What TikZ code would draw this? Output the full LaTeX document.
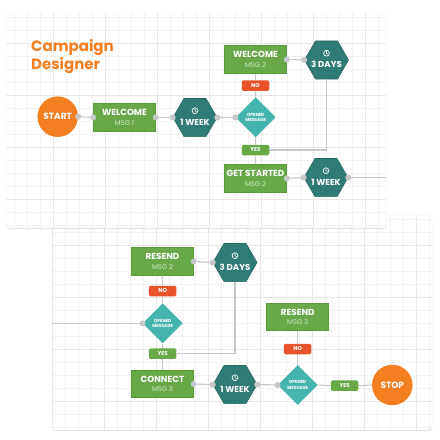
\documentclass[tikz,border=0pt]{standalone}
\usepackage{fontspec}
\setmainfont{Poppins}
\usetikzlibrary{positioning}
\usetikzlibrary{shapes.geometric}
\usetikzlibrary{arrows.meta}
\usetikzlibrary{shadows}

\definecolor{cdorange}{HTML}{F47F20}
\definecolor{cdgreen}{HTML}{68A847}
\definecolor{cdgreenD}{HTML}{5A9A3C}
\definecolor{cdteal}{HTML}{2F7B75}
\definecolor{cdtealD}{HTML}{27695F}
\definecolor{cdaqua}{HTML}{45B4AC}
\definecolor{cdred}{HTML}{E9532B}
\definecolor{cdline}{HTML}{C8C8CA}
\definecolor{cdmsg}{HTML}{D3EAC6}

\newcommand{\msgfont}{\mdseries\fontsize{6.8}{7.8}\selectfont\color{cdmsg}}

\tikzset{
  card/.style={fill=white, draw=black!7, rounded corners=3pt,
    drop shadow={shadow xshift=0pt, shadow yshift=-1pt, opacity=0.25}},
  gridminor/.style={draw=black!5, line width=0.4pt},
  gridmajor/.style={draw=black!9, line width=0.5pt},
  msgbox/.style={rectangle, fill=cdgreen, draw=cdgreenD, line width=0.6pt,
    minimum width=62pt, minimum height=27.5pt, inner sep=0pt, align=center,
    text=white, font=\bfseries\fontsize{8.8}{9.6}\selectfont},
  waithex/.style={regular polygon, regular polygon sides=6, fill=cdteal,
    draw=cdtealD, line width=0.6pt, minimum size=44pt, inner sep=0pt},
  hextext/.style={text=white, inner sep=0pt, font=\bfseries\fontsize{8.6}{10}\selectfont},
  check/.style={diamond, aspect=1, fill=cdaqua, minimum width=40pt,
    minimum height=40pt, inner sep=0pt, align=center, text=white,
    font=\bfseries\fontsize{4.4}{5.6}\selectfont},
  tagbox/.style={rectangle, rounded corners=1.5pt, minimum width=27.5pt,
    minimum height=10.5pt, inner sep=0pt, text=white,
    font=\bfseries\fontsize{5.6}{6.5}\selectfont},
  nolbl/.style={tagbox, fill=cdred},
  yeslbl/.style={tagbox, fill=cdgreen},
  startstop/.style={circle, fill=cdorange, minimum size=40.5pt, inner sep=0pt,
    text=white, font=\bfseries\fontsize{9}{10}\selectfont},
  link/.style={draw=cdline, line width=1.1pt},
  dots/.style={{Circle[length=6pt,color=cdline]}-{Circle[length=6pt,color=cdline]},
    shorten <=-3pt, shorten >=-3pt},
  startdot/.style={{Circle[length=6pt,color=cdline]}-, shorten <=-3pt},
  enddot/.style={-{Circle[length=6pt,color=cdline]}, shorten >=-3pt},
  clock/.pic={
    \draw[white, line width=0.7pt] (0,0) circle[radius=2.9];
    \draw[white, line width=0.6pt, line cap=round] (0,-1.8) -- (0,0) -- (1.3,0.9);
  }
}

\begin{document}
\begin{tikzpicture}[x=1pt, y=-1pt]
\useasboundingbox (0,0) rectangle (440,440);

% cards and their grids
\draw[card] (52,215) rectangle (432,430);
\begin{scope}
  \clip (52,215) rectangle (432,430);
  \foreach \gx in {0,13,...,442} \draw[gridminor] (\gx,215) -- (\gx,430);
  \foreach \gy in {219,232,...,430} \draw[gridminor] (52,\gy) -- (432,\gy);
  \foreach \gx in {52,104,...,432} \draw[gridmajor] (\gx,215) -- (\gx,430);
  \foreach \gy in {245,297,...,430} \draw[gridmajor] (52,\gy) -- (432,\gy);
\end{scope}
\draw[card] (6,13) rectangle (386,228);
\begin{scope}
  \clip[rounded corners=3pt] (6,13) rectangle (386,228);
  \foreach \gx in {1,14,...,390} \draw[gridminor] (\gx,13) -- (\gx,228);
  \foreach \gy in {17,30,...,228} \draw[gridminor] (6,\gy) -- (386,\gy);
  \foreach \gx in {53,105,...,386} \draw[gridmajor] (\gx,13) -- (\gx,228);
  \foreach \gy in {43,95,...,228} \draw[gridmajor] (6,\gy) -- (386,\gy);
\end{scope}

\node[anchor=north west, inner sep=0pt, align=left, text=cdorange,
  font=\bfseries\fontsize{15}{18}\selectfont] (title) at (31,39) {Campaign\\Designer};

% first card
\node[startstop] (start) at (57.7,116.7) {START};
\node[msgbox] (welcome1) at (124.5,117.5) {WELCOME\\{\msgfont MSG 1}};
\node[waithex] (week1) at (195,117.5) {};
\node[check] (opened1) at (255.7,117.3) {OPENED\\MESSAGE};
\node[nolbl] (no1) at (255.5,85.5) {NO};
\node[msgbox] (welcome2) at (255.5,59.5) {WELCOME\\{\msgfont MSG 2}};
\node[waithex] (days1) at (326.5,60) {};
\node[yeslbl] (yes1) at (255.5,150) {YES};
\node[msgbox] (started) at (255.5,178.5) {GET STARTED\\{\msgfont MSG 2}};
\node[waithex] (week2) at (326,177.5) {};
\coordinate (out1) at (386,177.5);

% second card
\node[msgbox] (resend2) at (162.5,261.5) {RESEND\\{\msgfont MSG 2}};
\node[waithex] (days2) at (235,262.5) {};
\node[nolbl] (no2) at (162.7,291) {NO};
\node[check] (opened2) at (162.7,323.3) {OPENED\\MESSAGE};
\coordinate (in2) at (52,323.3);
\node[yeslbl] (yes2) at (162.7,353.7) {YES};
\node[msgbox] (connect) at (162.5,384) {CONNECT\\{\msgfont MSG 3}};
\node[waithex] (week3) at (235,384.5) {};
\node[check] (opened3) at (297.7,385) {OPENED\\MESSAGE};
\node[nolbl] (no3) at (297.7,349) {NO};
\node[msgbox] (resend3) at (297.7,317) {RESEND\\{\msgfont MSG 3}};
\node[yeslbl] (yes3) at (344.7,385.7) {YES};
\node[startstop] (stop) at (392.3,385) {STOP};

% hexagon texts
\foreach \h/\t in {week1/1 WEEK, days1/3 DAYS, week2/1 WEEK, days2/3 DAYS, week3/1 WEEK} {
  \node[hextext] (\h-text) at ([yshift=-4.5pt]\h.center) {\t};
  \pic at ([yshift=6.8pt]\h.center) {clock};
}

% connectors
\draw[link, dots] (start.east) -- (welcome1.west);
\draw[link, dots] (welcome1.east) -- (week1.west);
\draw[link, dots] (week1.east) -- (opened1.west);
\draw[link, dots] (welcome2.east) -- (days1.west);
\draw[link] (welcome2.south) -- (no1.north);
\draw[link] (no1.south) -- (opened1.north);
\draw[link] (opened1.south) -- (yes1.north);
\draw[link] (yes1.south) -- (started.north);
\draw[link] (days1.south) |- (yes1.east);
\draw[link, dots] (started.east) -- (week2.west);
\draw[link, startdot] (week2.east) -- (out1);

\draw[link, dots] (resend2.east) -- (days2.west);
\draw[link] (resend2.south) -- (no2.north);
\draw[link] (no2.south) -- (opened2.north);
\draw[link, enddot] (in2) -- (opened2.west);
\draw[link] (opened2.south) -- (yes2.north);
\draw[link] (yes2.south) -- (connect.north);
\draw[link] (days2.south) |- (yes2.east);
\draw[link, dots] (connect.east) -- (week3.west);
\draw[link, dots] (week3.east) -- (opened3.west);
\draw[link] (resend3.south) -- (no3.north);
\draw[link] (no3.south) -- (opened3.north);
\draw[link] (opened3.east) -- (yes3.west);
\draw[link] (yes3.east) -- (stop.west);
\end{tikzpicture}
\end{document}
